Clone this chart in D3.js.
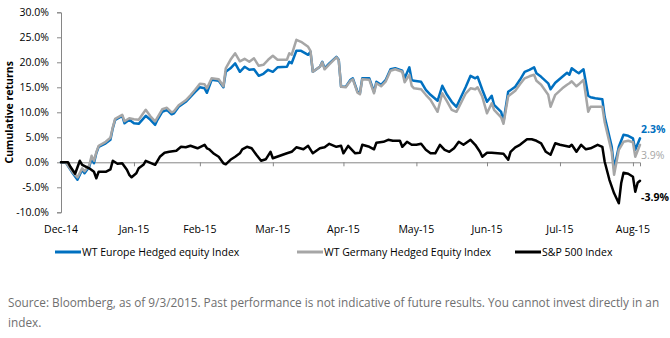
<!DOCTYPE html>
<html>
<head>
<meta charset="utf-8">
<script src="https://cdn.jsdelivr.net/npm/d3@7"></script>
<style>
  body { margin: 0; background: #fff; }
  text { font-family: "Open Sans", "Noto Sans", sans-serif; }
</style>
</head>
<body>
<div class="chart"></div>
<script>
// Data (cumulative return, %)
var hedgedDates = [
  "2014-12-31","2015-01-02","2015-01-05","2015-01-07","2015-01-09","2015-01-10","2015-01-12","2015-01-13","2015-01-14","2015-01-15",
  "2015-01-16","2015-01-19","2015-01-21","2015-01-22","2015-01-23","2015-01-26","2015-01-27","2015-01-29","2015-01-31","2015-02-02",
  "2015-02-05","2015-02-07","2015-02-09","2015-02-10","2015-02-12","2015-02-14","2015-02-16","2015-02-17","2015-02-19","2015-02-22",
  "2015-02-24","2015-02-26","2015-02-28","2015-03-02","2015-03-03",
  "2015-03-05","2015-03-08","2015-03-10","2015-03-11","2015-03-13","2015-03-15","2015-03-17","2015-03-19","2015-03-21","2015-03-23",
  "2015-03-25","2015-03-27","2015-03-29","2015-03-31","2015-04-02","2015-04-06","2015-04-07","2015-04-08","2015-04-10","2015-04-12",
  "2015-04-15","2015-04-16","2015-04-17","2015-04-20","2015-04-21","2015-04-22","2015-04-24","2015-04-27","2015-04-28","2015-04-29",
  "2015-05-01",
  "2015-05-03","2015-05-04","2015-05-06","2015-05-07","2015-05-08","2015-05-11","2015-05-13","2015-05-14","2015-05-16","2015-05-18",
  "2015-05-20","2015-05-22","2015-05-25","2015-05-26","2015-05-28","2015-05-29","2015-05-30","2015-06-02","2015-06-04","2015-06-06",
  "2015-06-09","2015-06-11","2015-06-13","2015-06-15","2015-06-17","2015-06-18","2015-06-21","2015-06-23","2015-06-25","2015-06-26",
  "2015-06-28","2015-06-30","2015-07-02","2015-07-03",
  "2015-07-06","2015-07-07","2015-07-09","2015-07-12","2015-07-14","2015-07-16","2015-07-18","2015-07-20","2015-07-21","2015-07-23",
  "2015-07-26","2015-07-27","2015-07-29","2015-08-01","2015-08-03","2015-08-04","2015-08-05","2015-08-07","2015-08-08","2015-08-10",
  "2015-08-12","2015-08-13","2015-08-15","2015-08-18","2015-08-19","2015-08-22","2015-08-23","2015-08-25","2015-08-27","2015-08-29",
  "2015-08-31","2015-09-01","2015-09-03"
];

var europeValues = [
  0, 0, -2.2, -3.5, -1.5, -2.2, -0.9, 0.8, -0.2, 1.8,
  3.1, 3.8, 4.5, 6.8, 8.5, 9.3, 7.8, 8.5, 7.8, 7.7,
  9.3, 8.5, 7.5, 8.5, 10.1, 10.5, 9.6, 9.8, 11.1, 12.1,
  13.1, 14.1, 15.0, 14.8, 13.9,
  16.5, 16.3, 15.0, 18.1, 18.8, 19.8, 18.1, 19.1, 18.5, 18.6,
  17.3, 17.7, 18.5, 18.1, 19.0, 19.1, 20.1, 19.8, 22.3, 22.3,
  21.5, 22.1, 18.1, 19.1, 20.1, 18.8, 19.8, 21.1, 20.5, 15.1,
  15.1,
  16.5, 16.8, 14.1, 13.8, 16.8, 16.8, 14.1, 16.1, 15.5, 16.5,
  18.6, 18.8, 18.3, 16.8, 19.0, 16.5, 16.3, 16.1, 14.5, 13.5,
  12.3, 15.3, 13.5, 12.1, 11.1, 12.1, 15.1, 17.3, 16.8, 17.1,
  14.5, 12.1, 13.3, 11.5,
  10.1, 8.1, 14.1, 15.1, 16.5, 18.1, 18.5, 19.0, 17.8, 17.1,
  15.8, 14.6, 15.9, 17.1, 17.9, 17.5, 18.8, 18.1, 17.8, 18.6,
  13.3, 13.0, 12.8, 12.6, 9.1, 3.1, -1.2, 3.1, 5.5, 5.3,
  4.8, 2.5, 4.8
];

var germanyValues = [
  0, 0, -2.0, -3.0, -1.2, -1.8, -0.6, 1.3, 0.3, 2.0,
  3.3, 4.1, 4.9, 7.0, 8.7, 9.5, 8.2, 8.8, 8.6, 8.5,
  10.5, 9.2, 8.2, 9.0, 10.6, 10.9, 10.0, 10.2, 11.4, 12.4,
  13.4, 14.5, 15.7, 15.6, 14.8,
  16.8, 16.6, 15.2, 18.8, 20.5, 21.8, 20.2, 20.7, 20.1, 20.8,
  19.3, 19.5, 20.5, 21.3, 20.5, 20.5, 21.8, 21.5, 24.5, 24.1,
  23.1, 22.3, 18.1, 19.1, 20.0, 18.6, 19.6, 21.0, 20.4, 15.1,
  15.0,
  16.3, 16.6, 13.9, 13.6, 16.6, 16.5, 13.8, 15.8, 15.2, 16.2,
  18.3, 18.6, 18.1, 16.0, 17.5, 15.3, 14.8, 14.6, 13.5, 12.5,
  10.1, 13.8, 12.2, 10.5, 10.1, 11.0, 13.8, 14.8, 14.6, 15.0,
  13.1, 9.8, 11.8, 10.5,
  9.0, 7.7, 13.2, 14.3, 15.6, 16.8, 17.2, 17.5, 16.3, 15.5,
  13.5, 11.1, 13.5, 14.8, 15.5, 15.8, 16.2, 15.2, 15.6, 16.5,
  10.1, 11.1, 11.1, 11.1, 8.0, 2.0, -2.5, 2.5, 4.1, 4.3,
  4.0, 1.1, 3.5
];

var spxDates = [
  "2014-12-31","2015-01-03","2015-01-04","2015-01-06","2015-01-08","2015-01-09","2015-01-12","2015-01-14","2015-01-15","2015-01-16",
  "2015-01-19","2015-01-21","2015-01-22","2015-01-24","2015-01-26","2015-01-28","2015-01-29","2015-01-30","2015-02-01","2015-02-02",
  "2015-02-04","2015-02-05","2015-02-07","2015-02-09","2015-02-11","2015-02-13","2015-02-15","2015-02-18","2015-02-20","2015-02-22",
  "2015-02-24","2015-02-27","2015-03-02","2015-03-03",
  "2015-03-04","2015-03-06","2015-03-08","2015-03-10","2015-03-11","2015-03-13","2015-03-15","2015-03-17","2015-03-18","2015-03-20",
  "2015-03-22","2015-03-24","2015-03-26","2015-03-28","2015-03-30","2015-03-31","2015-04-03","2015-04-06","2015-04-08","2015-04-10",
  "2015-04-13","2015-04-15","2015-04-17","2015-04-20","2015-04-22","2015-04-24","2015-04-27","2015-04-29","2015-04-30","2015-05-02",
  "2015-05-05","2015-05-07","2015-05-08","2015-05-11","2015-05-13","2015-05-14","2015-05-17","2015-05-19","2015-05-21","2015-05-24",
  "2015-05-25","2015-05-27","2015-05-29","2015-05-31","2015-06-02","2015-06-04","2015-06-06","2015-06-08","2015-06-10","2015-06-12",
  "2015-06-14","2015-06-16","2015-06-18","2015-06-20","2015-06-23","2015-06-25","2015-06-27","2015-06-28","2015-06-30","2015-07-02",
  "2015-07-07","2015-07-09","2015-07-10","2015-07-12","2015-07-14","2015-07-17","2015-07-19","2015-07-21","2015-07-23","2015-07-25",
  "2015-07-27","2015-07-29","2015-07-31","2015-08-02","2015-08-04","2015-08-05","2015-08-07","2015-08-09","2015-08-11","2015-08-13",
  "2015-08-16","2015-08-18","2015-08-19","2015-08-21","2015-08-23","2015-08-25","2015-08-26","2015-08-27","2015-08-29","2015-08-31",
  "2015-09-01","2015-09-02","2015-09-03"
];

var spxValues = [
  0, 0, -0.9, -2.3, 0.3, -0.5, -1.2, -1.9, -3.2, -1.9,
  -1.9, -1.4, 0.3, -0.3, -0.2, -1.5, -2.5, -3.0, -2.2, -1.2,
  -0.5, 0.3, -0.1, -0.5, 1.1, 1.9, 2.1, 2.3, 3.1, 3.0,
  3.3, 2.8, 3.5, 2.8,
  2.6, 1.7, 1.1, -0.2, -0.4, 0.5, 1.1, 1.8, 2.6, 3.1,
  2.8, 1.5, 0.3, 0.6, 2.1, 0.8, 1.3, 1.8, 2.1, 3.0,
  2.6, 3.3, 1.8, 2.8, 3.0, 3.7, 3.1, 3.3, 1.8, 3.3,
  1.8, 1.9, 3.5, 3.1, 2.6, 3.9, 4.1, 4.5, 4.3, 4.3,
  3.1, 4.1, 3.5, 3.5, 3.7, 2.5, 1.8, 1.8, 3.5, 2.5,
  2.1, 2.8, 4.1, 3.5, 4.5, 3.5, 2.1, 1.1, 1.9, 1.9,
  1.7, 0.5, 2.1, 3.0, 3.5, 4.6, 4.6, 4.3, 3.8, 2.1,
  1.5, 3.8, 3.5, 3.3, 3.1, 3.5, 2.1, 3.5, 2.6, 2.8,
  3.5, 3.1, 0.1, -3.5, -6.2, -8.2, -4.2, -2.1, -2.3, -2.9,
  -5.9, -4.1, -3.7
];

var seriesNames = ["WT Europe Hedged equity Index", "WT Germany Hedged Equity Index", "S&P 500 Index"];
var seriesColors = ["#0070C0", "#A6A6A6", "#000000"];
var endLabels = ["2.3%", "3.9%", "-3.9%"];

var tickDates = ["2014-12-31","2015-01-31","2015-02-28","2015-03-31","2015-04-30","2015-05-31","2015-06-30","2015-07-31","2015-08-31"];
var tickLabels = ["Dec-14","Jan-15","Feb-15","Mar-15","Apr-15","May-15","Jun-15","Jul-15","Aug-15"];
var yTicks = [-10, -5, 0, 5, 10, 15, 20, 25, 30];

var svgWidth = 670;
var svgHeight = 338;

var parseDate = d3.timeParse("%Y-%m-%d");

var svg = d3.select(".chart")
  .append("svg")
  .attr("width", svgWidth)
  .attr("height", svgHeight);

// scales
var x = d3.scaleTime()
  .domain([parseDate("2014-12-31"), parseDate("2015-09-03")])
  .range([61, 640]);

var y = d3.scaleLinear()
  .domain([-10, 30])
  .range([212.3, 12.3]);

// series tables
var series = [
  { name: seriesNames[0], color: seriesColors[0], label: endLabels[0], labelDy: -5, bold: true,
    points: hedgedDates.map((d, i) => ({ date: parseDate(d), value: europeValues[i] })) },
  { name: seriesNames[1], color: seriesColors[1], label: endLabels[1], labelDy: 14, bold: false,
    points: hedgedDates.map((d, i) => ({ date: parseDate(d), value: germanyValues[i] })) },
  { name: seriesNames[2], color: seriesColors[2], label: endLabels[2], labelDy: 20, bold: true,
    points: spxDates.map((d, i) => ({ date: parseDate(d), value: spxValues[i] })) }
];

// y axis
var yAxis = d3.axisLeft(y)
  .tickValues(yTicks)
  .tickSize(4)
  .tickPadding(8)
  .tickFormat(d => d.toFixed(1) + "%");

var yG = svg.append("g")
  .attr("transform", "translate(61,0)")
  .call(yAxis);
yG.select(".domain").attr("stroke", "#868686");
yG.selectAll(".tick line").attr("stroke", "#868686");
yG.selectAll(".tick text")
  .attr("fill", "#000")
  .style("font-size", "10.5px")
  .style("font-family", "'Open Sans', sans-serif");

// x axis on the zero line, labels at the bottom
var xAxis = d3.axisBottom(x)
  .tickValues(tickDates.map(parseDate))
  .tickSize(4)
  .tickFormat("");

var xG = svg.append("g")
  .attr("transform", `translate(0, ${y(0)})`)
  .call(xAxis);
xG.select(".domain").attr("stroke", "#868686");
xG.selectAll(".tick line").attr("stroke", "#868686");

svg.append("g")
  .selectAll("text")
  .data(tickDates)
  .enter()
  .append("text")
  .attr("x", d => x(parseDate(d)))
  .attr("y", 233)
  .attr("text-anchor", "middle")
  .attr("font-size", "10.5px")
  .text((d, i) => tickLabels[i]);

// y axis title
svg.append("text")
  .attr("transform", `translate(13, ${(y(30) + y(-10)) / 2}) rotate(-90)`)
  .attr("text-anchor", "middle")
  .attr("font-size", "10.5px")
  .attr("font-weight", "bold")
  .text("Cumulative returns");

// lines
var line = d3.line()
  .x(d => x(d.date))
  .y(d => y(d.value));

svg.append("g")
  .selectAll("path")
  .data(series)
  .enter()
  .append("path")
  .attr("d", d => line(d.points))
  .attr("fill", "none")
  .attr("stroke", d => d.color)
  .attr("stroke-width", 2.5)
  .attr("stroke-linejoin", "round")
  .attr("stroke-linecap", "round");

// end labels
svg.append("g")
  .selectAll("text")
  .data(series)
  .enter()
  .append("text")
  .attr("x", d => x(d.points[d.points.length - 1].date) + 1)
  .attr("y", d => y(d.points[d.points.length - 1].value) + d.labelDy)
  .attr("font-size", "10.5px")
  .attr("font-weight", d => d.bold ? "bold" : "normal")
  .attr("fill", d => d.color)
  .text(d => d.label);

// legend
var legendX = [55, 297, 515];
var legend = svg.append("g")
  .selectAll("g")
  .data(series)
  .enter()
  .append("g")
  .attr("transform", (d, i) => `translate(${legendX[i]}, 252)`);

legend.append("line")
  .attr("x1", 0)
  .attr("x2", 26)
  .attr("stroke", d => d.color)
  .attr("stroke-width", 3);

legend.append("text")
  .attr("x", 27)
  .attr("y", 4)
  .attr("font-size", "10.5px")
  .text(d => d.name);

// source note
var sourceLines = [
  "Source: Bloomberg, as of 9/3/2015. Past performance is not indicative of future results. You cannot invest directly in an",
  "index."
];
svg.append("g")
  .selectAll("text")
  .data(sourceLines)
  .enter()
  .append("text")
  .attr("x", 8)
  .attr("y", (d, i) => 307 + i * 20)
  .attr("font-size", "11.8px")
  .attr("fill", "#6f6f6f")
  .text(d => d);
</script>
</body>
</html>
